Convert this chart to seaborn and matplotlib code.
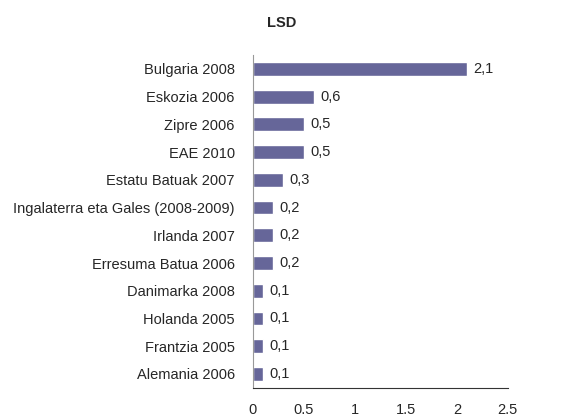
import pandas as pd
import seaborn as sns
import matplotlib.pyplot as plt

countries = ['Bulgaria 2008', 'Eskozia 2006', 'Zipre 2006', 'EAE 2010', 'Estatu Batuak 2007',
             'Ingalaterra eta Gales (2008-2009)', 'Irlanda 2007', 'Erresuma Batua 2006',
             'Danimarka 2008', 'Holanda 2005', 'Frantzia 2005', 'Alemania 2006']
values = [2.1, 0.6, 0.5, 0.5, 0.3, 0.2, 0.2, 0.2, 0.1, 0.1, 0.1, 0.1]
xticks = [0, 0.5, 1, 1.5, 2, 2.5]

df = pd.DataFrame({'Country': countries, 'LSD': values})

sns.set_style('white')
plt.rcParams['font.family'] = ['Liberation Sans', 'DejaVu Sans']
fs = 10.5

fig = plt.figure(figsize=(5.63, 4.17), dpi=100)
ax = fig.add_axes([0.449, 0.07, 0.453, 0.798])

sns.barplot(data=df, x='LSD', y='Country', color='#666699', width=0.5,
            saturation=1, ax=ax)

# bar labels with comma decimals
for i, v in enumerate(values):
    ax.text(v + 0.06, i, f'{v:.1f}'.replace('.', ','), va='center', ha='left', fontsize=fs)

ax.set_xlim(0, 2.5)
ax.set_ylim(11.5, -0.5)
ax.set_xticks(xticks)
ax.set_xticklabels([f'{t:g}' for t in xticks], fontsize=fs)
ax.tick_params(axis='x', direction='out', length=5, width=0.8, color='#333333', pad=6)
ax.tick_params(axis='y', length=0, labelsize=fs, pad=13)
ax.set_xlabel('')
ax.set_ylabel('')

for s in ['top', 'right']:
    ax.spines[s].set_visible(False)
ax.spines['left'].set_color('#999999')
ax.spines['left'].set_linewidth(0.8)
ax.spines['bottom'].set_color('#333333')
ax.spines['bottom'].set_linewidth(0.8)

fig.text(0.5, 0.945, 'LSD', ha='center', va='center', fontsize=fs, fontweight='bold')

fig.savefig('out.png', dpi=100)
